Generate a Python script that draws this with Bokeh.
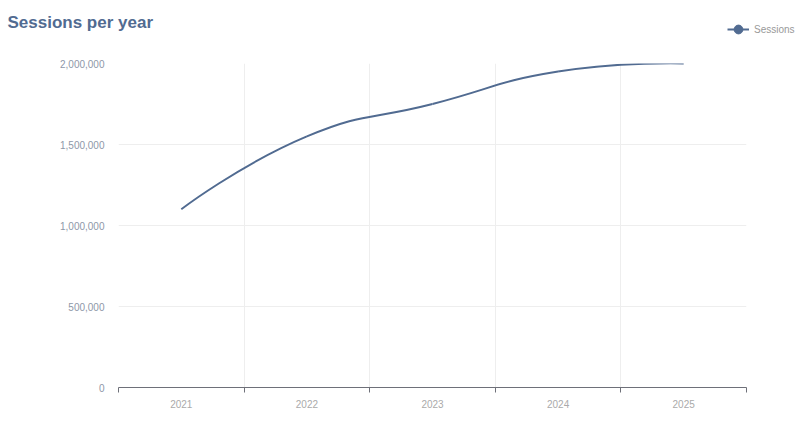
import math
import numpy as np
from bokeh.plotting import figure
from bokeh.models import (Range1d, FixedTicker, NumeralTickFormatter, Legend,
                          LegendItem, Label)
from bokeh.embed import file_html
from bokeh.resources import INLINE

# ---- data ----
years = ["2021", "2022", "2023", "2024", "2025"]
sessions = [1100000, 1550000, 1750000, 1950000, 2000000]
y_ticks = [0, 500000, 1000000, 1500000, 2000000]
series_name = "Sessions"
title_text = "Sessions per year"

# ---- style ----
COLOR = "#516b91"
FONT = "Liberation Sans"
W = 800
TOP_H = 55            # header strip (title + legend)
H = 425 - TOP_H       # main chart
ML, MR, MT, MB = 118, 54, 8, 38
FW, FH = W - ML - MR, H - MT - MB
y_max = y_ticks[-1]

xs = list(range(len(years)))
boundaries = [i - 0.5 for i in range(len(years) + 1)]

# ECharts-like smoothing (computed in pixel space, converted back to data)
sx = FW / len(years)
sy = FH / y_max
px = np.array(xs, float) * sx
py = np.array(sessions, float) * sy
smooth = 0.5
seg = {k: [] for k in ["x0", "y0", "x1", "y1", "cx0", "cy0", "cx1", "cy1"]}
cpx0, cpy0 = px[0], py[0]
n = len(px)
for i in range(1, n):
    xx, yy = px[i], py[i]
    prx, pry = px[i - 1], py[i - 1]
    if i + 1 < n:
        nx, ny = px[i + 1], py[i + 1]
        vx, vy = nx - prx, ny - pry
        lp = math.hypot(xx - prx, yy - pry)
        ln = math.hypot(nx - xx, ny - yy)
        r = ln / (ln + lp)
        ncx, ncy = xx - vx * smooth * (1 - r), yy - vy * smooth * (1 - r)
    else:
        vx = vy = 0.0
        r = 0.5
        ncx, ncy = xx, yy
    seg["x0"].append(prx / sx); seg["y0"].append(pry / sy)
    seg["x1"].append(xx / sx); seg["y1"].append(yy / sy)
    seg["cx0"].append(cpx0 / sx); seg["cy0"].append(cpy0 / sy)
    seg["cx1"].append(ncx / sx); seg["cy1"].append(ncy / sy)
    cpx0, cpy0 = xx + vx * smooth * r, yy + vy * smooth * r

# ---------------- header strip: title + legend ----------------
top = figure(width=W, height=TOP_H, output_backend="svg", toolbar_location=None,
             x_axis_type=None, y_axis_type=None,
             x_range=Range1d(-100, -99), y_range=Range1d(-100, -99),
             min_border=0)
top.outline_line_color = None
top.background_fill_color = "white"
top.border_fill_color = "white"
# same series drawn here only to provide legend glyphs (outside visible range)
leg_line = top.line(xs, sessions, line_color=COLOR, line_width=2)
leg_pts = top.scatter(xs, sessions, size=9, fill_color=COLOR, line_color=COLOR)

legend = Legend(items=[LegendItem(label=series_name, renderers=[leg_line, leg_pts])],
                location=(727, 14), padding=0, margin=0, spacing=0,
                glyph_width=22, glyph_height=24, label_standoff=5,
                label_text_font=FONT, label_text_font_size="10px",
                label_text_color="#999999", label_height=24,
                background_fill_alpha=0, border_line_alpha=0)
top.add_layout(legend, "center")

top.add_layout(Label(x=7, y=TOP_H - 22, x_units="screen", y_units="screen",
                     text=title_text, text_font=FONT, text_font_size="17px",
                     text_font_style="bold", text_color=COLOR,
                     text_baseline="middle", text_align="left"))

# ---------------- main chart ----------------
p = figure(width=W, height=H, output_backend="svg", toolbar_location=None,
           x_range=Range1d(boundaries[0], boundaries[-1]),
           y_range=Range1d(0, y_max),
           min_border_left=ML, min_border_right=MR,
           min_border_top=MT, min_border_bottom=MB)
p.outline_line_color = None
p.background_fill_color = "white"
p.border_fill_color = "white"

p.bezier(x0=seg["x0"], y0=seg["y0"], x1=seg["x1"], y1=seg["y1"],
         cx0=seg["cx0"], cy0=seg["cy0"], cx1=seg["cx1"], cy1=seg["cy1"],
         line_color=COLOR, line_width=2)

# x axis
p.xaxis.ticker = FixedTicker(ticks=xs, minor_ticks=boundaries)
p.xaxis.major_label_overrides = {i: lab for i, lab in enumerate(years)}
p.xaxis.major_tick_out = 0
p.xaxis.major_tick_in = 0
p.xaxis.minor_tick_out = 5
p.xaxis.minor_tick_in = 0
p.xaxis.minor_tick_line_color = "#6e7079"
p.xaxis.axis_line_color = "#6e7079"
p.xaxis.major_label_text_color = "#aaaaaa"
p.xaxis.major_label_text_font = FONT
p.xaxis.major_label_text_font_size = "10px"
p.xaxis.major_label_standoff = 7

# y axis
p.yaxis.ticker = FixedTicker(ticks=y_ticks)
p.yaxis.formatter = NumeralTickFormatter(format="0,0")
p.yaxis.axis_line_color = None
p.yaxis.major_tick_line_color = None
p.yaxis.minor_tick_line_color = None
p.yaxis.major_label_text_color = "#8e97a8"
p.yaxis.major_label_text_font = FONT
p.yaxis.major_label_text_font_size = "10px"
p.yaxis.major_label_standoff = 8

# grids
p.xgrid.ticker = FixedTicker(ticks=boundaries)
p.xgrid.grid_line_color = "#eeeeee"
p.ygrid.grid_line_color = "#eeeeee"

open("out.html", "w").write(file_html([top, p], INLINE))
